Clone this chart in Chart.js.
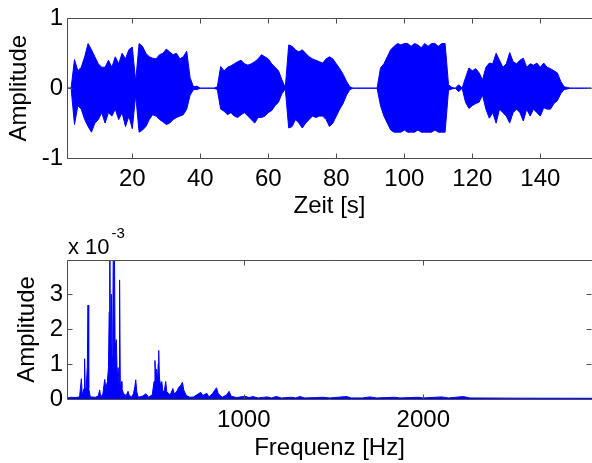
<!DOCTYPE html>
<html>
<head>
<meta charset="utf-8">
<script src="https://cdn.jsdelivr.net/npm/chart.js@4.4.1/dist/chart.umd.min.js"></script>
<style>
  body { margin: 0; background: #fff; overflow: hidden; width: 592px; height: 463px; position: relative; }
  canvas { position: absolute; left: 0; }
</style>
</head>
<body>
<canvas id="wave" width="592" height="225" style="top:0"></canvas>
<canvas id="spec" width="592" height="238" style="top:225px"></canvas>
<script>
// oberes Bild: Huellkurve des Signals, eine Stuetzstelle pro Sekunde
const timeSec = [
  1, 2, 3, 4, 5, 6, 7, 8, 9, 10, 11, 12, 13, 14, 15, 16, 17, 18, 19, 20,
  21, 22, 23, 24, 25, 26, 27, 28, 29, 30, 31, 32, 33, 34, 35, 36, 37, 38, 39, 40,
  41, 42, 43, 44, 45, 46, 47, 48, 49, 50, 51, 52, 53, 54, 55, 56, 57, 58, 59, 60,
  61, 62, 63, 64, 65, 66, 67, 68, 69, 70, 71, 72, 73, 74, 75, 76, 77, 78, 79, 80,
  81, 82, 83, 84, 85, 86, 87, 88, 89, 90, 91, 92, 93, 94, 95, 96, 97, 98, 99, 100,
  101, 102, 103, 104, 105, 106, 107, 108, 109, 110, 111, 112, 113, 114, 115, 116, 117, 118, 119, 120,
  121, 122, 123, 124, 125, 126, 127, 128, 129, 130, 131, 132, 133, 134, 135, 136, 137, 138, 139, 140,
  141, 142, 143, 144, 145, 146, 147, 148, 149, 150, 151, 152, 153, 154, 155
];
const envUpper = [
  0, 0, 0.41, 0.25, 0.3, 0.45, 0.64, 0.55, 0.45, 0.35, 0.3, 0.3, 0.4, 0.3, 0.45, 0.35, 0.5, 0.42, 0.55, 0.59,
  0.1, 0.64, 0.6, 0.5, 0.45, 0.43, 0.42, 0.48, 0.5, 0.56, 0.52, 0.48, 0.5, 0.42, 0.45, 0.53, 0.15, 0.02, 0.03, 0,
  0, 0, 0, 0, 0.02, 0.31, 0.25, 0.3, 0.32, 0.35, 0.38, 0.4, 0.35, 0.33, 0.35, 0.38, 0.42, 0.48, 0.45, 0.42,
  0.35, 0.3, 0.25, 0.12, 0.01, 0.62, 0.6, 0.55, 0.52, 0.55, 0.5, 0.45, 0.42, 0.4, 0.38, 0.36, 0.42, 0.45, 0.42, 0.35,
  0.28, 0.2, 0.1, 0.02, 0, 0, 0, 0, 0, 0, 0, 0, 0.29, 0.35, 0.45, 0.55, 0.6, 0.64, 0.62, 0.64,
  0.64, 0.6, 0.64, 0.62, 0.58, 0.64, 0.6, 0.64, 0.64, 0.6, 0.64, 0.64, 0.05, 0.01, 0, 0.05, 0, 0.15, 0.29, 0.25,
  0.28, 0.22, 0.12, 0.3, 0.36, 0.35, 0.5, 0.4, 0.3, 0.35, 0.51, 0.38, 0.35, 0.4, 0.43, 0.3, 0.35, 0.33, 0.36, 0.3,
  0.36, 0.3, 0.28, 0.25, 0.22, 0.1, 0.02, 0.01, 0, 0, 0, 0, 0, 0, 0
];
const envLower = [
  0, 0, -0.52, -0.25, -0.3, -0.45, -0.55, -0.63, -0.5, -0.45, -0.35, -0.5, -0.35, -0.4, -0.3, -0.45, -0.35, -0.55, -0.4, -0.58,
  -0.1, -0.63, -0.6, -0.55, -0.45, -0.38, -0.4, -0.45, -0.48, -0.52, -0.5, -0.45, -0.42, -0.4, -0.38, -0.3, -0.1, -0.02, -0.02, 0,
  0, 0, 0, 0, -0.02, -0.3, -0.33, -0.38, -0.35, -0.4, -0.42, -0.38, -0.35, -0.4, -0.45, -0.5, -0.42, -0.42, -0.4, -0.35,
  -0.32, -0.25, -0.2, -0.08, -0.01, -0.57, -0.55, -0.45, -0.5, -0.57, -0.5, -0.45, -0.4, -0.42, -0.4, -0.4, -0.45, -0.55, -0.5, -0.4,
  -0.3, -0.22, -0.1, -0.02, 0, 0, 0, 0, 0, 0, 0, 0, -0.25, -0.4, -0.5, -0.6, -0.63, -0.63, -0.63, -0.6,
  -0.63, -0.63, -0.63, -0.6, -0.63, -0.63, -0.63, -0.63, -0.6, -0.63, -0.63, -0.63, -0.03, -0.01, 0, -0.05, 0, -0.2, -0.29, -0.25,
  -0.22, -0.2, -0.1, -0.3, -0.43, -0.35, -0.5, -0.3, -0.35, -0.4, -0.5, -0.35, -0.3, -0.35, -0.47, -0.3, -0.4, -0.3, -0.35, -0.4,
  -0.28, -0.3, -0.3, -0.22, -0.18, -0.08, -0.02, -0.01, 0, 0, 0, 0, 0, 0, 0
];
const timeTicks = [20, 40, 60, 80, 100, 120, 140];
const waveTicks = [-1, 0, 1];

// unteres Bild: Betragsspektrum, Amplitude in Einheiten von 1e-3
const specFreq = [
  15, 40, 60, 85, 95, 100, 110, 113, 117, 122, 128, 132, 136, 145, 175, 190, 197, 203, 215, 225,
  232, 240, 246, 250, 253, 257, 262, 266, 270, 275, 279, 283, 290, 295, 300, 305, 308, 312, 318, 321,
  330, 345, 355, 362, 375, 385, 393, 398, 404, 412, 435, 455, 470, 490, 500, 505, 509, 514, 519, 523,
  526, 530, 536, 543, 550, 558, 565, 571, 590, 605, 612, 625, 640, 650, 658, 666, 680, 700, 720, 745,
  760, 772, 785, 795, 805, 825, 838, 848, 858, 880, 905, 918, 930, 960, 1005, 1030, 1050, 1080, 1130, 1155,
  1180, 1210, 1265, 1290, 1312, 1340, 1400, 1440, 1480, 1572, 1600, 1660, 1703, 1740, 1842, 1870, 1972, 2000, 2102, 2140,
  2223, 2260, 2500, 2940
];
const specAmpE3 = [
  0.03, 0.05, 0.04, 0.06, 0.58, 0.1, 0.3, 1.15, 0.2, 0.35, 0.9, 2.69, 0.3, 0.06, 0.05, 0.1, 0.26, 0.05, 0.15, 0.56,
  0.3, 0.5, 0.9, 2.5, 5.5, 1.5, 3.0, 1.2, 2.0, 6.0, 4.5, 1.5, 1.7, 0.6, 0.9, 0.4, 3.41, 0.3, 0.5, 0.3,
  0.15, 0.1, 0.22, 0.1, 0.06, 0.15, 0.35, 0.55, 0.2, 0.05, 0.08, 0.15, 0.05, 0.12, 0.5, 1.1, 0.7, 0.85, 0.5, 1.0,
  1.39, 0.6, 0.4, 0.5, 0.2, 0.25, 0.5, 0.2, 0.12, 0.3, 0.15, 0.2, 0.35, 0.4, 0.48, 0.25, 0.1, 0.05, 0.06, 0.14,
  0.19, 0.1, 0.14, 0.16, 0.06, 0.15, 0.25, 0.32, 0.15, 0.05, 0.12, 0.22, 0.08, 0.04, 0.08, 0.04, 0.07, 0.03, 0.06, 0.03,
  0.07, 0.03, 0.05, 0.03, 0.07, 0.03, 0.04, 0.05, 0.03, 0.07, 0.03, 0.03, 0.06, 0.03, 0.05, 0.03, 0.05, 0.03, 0.06, 0.03,
  0.07, 0.03, 0.025, 0.02
];
const freqTicks = [1000, 2000];
const specTicks = [0, 1, 2, 3];

const BLUE = 'rgb(0,0,255)';
const AXIS_GRAY = '#4d4d4d';

Chart.defaults.font.family = '"Liberation Sans", Arial, sans-serif';
Chart.defaults.color = '#000';

// Achsenrahmen wie in MATLAB: Linie oben, Ticks nach innen
const boxPlugin = {
  id: 'matlabBox',
  afterDatasetsDraw(chart) {
    const { ctx, chartArea: a, scales } = chart;
    const L = Math.floor(a.left) + 0.5;
    const T = Math.floor(a.top) + 0.5;
    const B = Math.floor(a.bottom) + 0.5;
    const R = Math.ceil(a.right) - 0.5;
    ctx.save();
    ctx.strokeStyle = AXIS_GRAY;
    ctx.lineWidth = 1;
    ctx.beginPath();
    ctx.moveTo(L, T); ctx.lineTo(a.right, T);
    ctx.moveTo(L, T); ctx.lineTo(L, B); ctx.lineTo(a.right, B);
    scales.x.ticks.forEach(t => {
      const p = Math.round(scales.x.getPixelForValue(t.value)) + 0.5;
      ctx.moveTo(p, B); ctx.lineTo(p, B - 5);
      ctx.moveTo(p, T); ctx.lineTo(p, T + 5);
    });
    scales.y.ticks.forEach(t => {
      const p = Math.round(scales.y.getPixelForValue(t.value)) + 0.5;
      ctx.moveTo(L, p); ctx.lineTo(L + 5, p);
      ctx.moveTo(R, p); ctx.lineTo(R - 5, p);
    });
    ctx.stroke();
    ctx.restore();
  }
};

// "x 10^-3" ueber dem Spektrum
const exponentPlugin = {
  id: 'exponent',
  afterDraw(chart) {
    const ctx = chart.ctx;
    ctx.save();
    ctx.fillStyle = '#000';
    ctx.textBaseline = 'middle';
    ctx.font = '22px "Liberation Sans", Arial, sans-serif';
    ctx.fillText('x 10', 68, 23);
    const w = ctx.measureText('x 10').width;
    ctx.font = '15px "Liberation Sans", Arial, sans-serif';
    ctx.fillText('-3', 68 + w + 2, 9);
    ctx.restore();
  }
};

function fixedTicks(list) {
  return scale => { scale.ticks = list.map(v => ({ value: v })); };
}

function axes(o) {
  return {
    x: {
      type: 'linear', min: o.xMin, max: o.xMax,
      afterBuildTicks: fixedTicks(o.xTicks),
      afterFit: s => { s.height = o.xHeight; },
      grid: { display: false, drawTicks: false }, border: { display: false },
      ticks: { padding: 7, maxRotation: 0, autoSkip: false, font: { size: 24 }, callback: v => String(v) },
      title: { display: true, text: o.xTitle, font: { size: 24 }, padding: { top: 0, bottom: o.xTitlePad } }
    },
    y: {
      min: o.yMin, max: o.yMax,
      afterBuildTicks: fixedTicks(o.yTicks),
      afterFit: s => { s.width = 67; },
      grid: { display: false, drawTicks: false }, border: { display: false },
      ticks: { padding: 4, font: { size: 24 }, callback: v => String(v) },
      title: { display: true, text: 'Amplitude', font: { size: 24 }, padding: { top: o.yTitlePad, bottom: 0 } }
    }
  };
}

const baseOptions = {
  responsive: false,
  animation: false,
  events: [],
  plugins: { legend: { display: false }, tooltip: { enabled: false } },
  elements: { line: { tension: 0 }, point: { radius: 0 } }
};

new Chart(document.getElementById('wave'), {
  type: 'line',
  data: {
    datasets: [
      { data: timeSec.map((t, i) => ({ x: t, y: envUpper[i] })), borderColor: BLUE, borderWidth: 1, fill: false },
      { data: timeSec.map((t, i) => ({ x: t, y: envLower[i] })), borderColor: BLUE, backgroundColor: BLUE, borderWidth: 1, fill: '-1' }
    ]
  },
  options: Object.assign({}, baseOptions, {
    layout: { padding: { top: 18, left: 0, right: 0, bottom: 0 } },
    scales: axes({ xMin: 0.8, xMax: 155.2, xTicks: timeTicks, xHeight: 67, xTitle: 'Zeit [s]', xTitlePad: 4,
                   yMin: -1, yMax: 1, yTicks: waveTicks, yTitlePad: 5 })
  }),
  plugins: [boxPlugin]
});

new Chart(document.getElementById('spec'), {
  type: 'line',
  data: {
    datasets: [
      { data: specFreq.map((f, i) => ({ x: f, y: specAmpE3[i] })), borderColor: BLUE, backgroundColor: BLUE, borderWidth: 1, fill: 'origin' }
    ]
  },
  options: Object.assign({}, baseOptions, {
    layout: { padding: { top: 35, left: 0, right: 0, bottom: 0 } },
    scales: axes({ xMin: 15, xMax: 2940, xTicks: freqTicks, xHeight: 64, xTitle: 'Frequenz [Hz]', xTitlePad: 0,
                   yMin: 0, yMax: 3.98, yTicks: specTicks, yTitlePad: 12.5 })
  }),
  plugins: [boxPlugin, exponentPlugin]
});
</script>
</body>
</html>
